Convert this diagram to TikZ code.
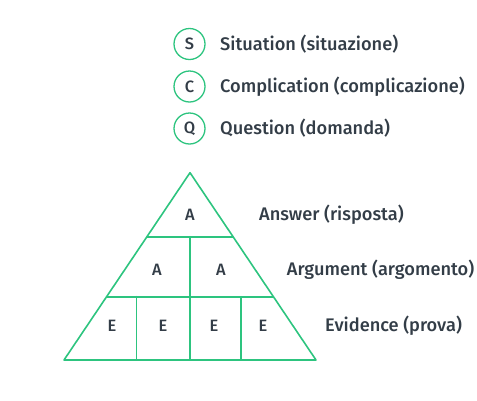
\documentclass[tikz,border=0pt]{standalone}
\usepackage{fontspec}
\setmainfont{Fira Sans Medium}
\definecolor{grn}{HTML}{2DC47F}
\definecolor{txt}{HTML}{333D47}
\begin{document}
\begin{tikzpicture}[x=1bp,y=-1bp,
  line/.style={draw=grn,line width=1.6bp,line join=round,line cap=round},
  badge/.style={circle,draw=grn,line width=1.3bp,minimum size=31bp,inner sep=0pt,text=txt,font=\fontsize{16.5}{18}\selectfont},
  lbl/.style={anchor=west,text=txt,font=\fontsize{18.3}{21}\selectfont,inner sep=0pt},
  cell/.style={text=txt,font=\fontsize{16.5}{18}\selectfont,inner sep=0pt}]
\useasboundingbox (0,0) rectangle (477,400);
% legend
\node[badge] (s) at (189.5,44) {S};
\node[badge] (c) at (189.5,86.5) {C};
\node[badge] (q) at (189.5,128.5) {Q};
\node[lbl] (ls) at (220,44) {Situation (situazione)};
\node[lbl] (lc) at (220,86.5) {Complication (complicazione)};
\node[lbl] (lq) at (220,128.5) {Question (domanda)};
% pyramid
\coordinate (top) at (190,172.7);
\coordinate (bl) at (64,360);
\coordinate (br) at (316,360);
\coordinate (l1a) at (146.9,236.7);
\coordinate (l1b) at (233.1,236.7);
\coordinate (l2a) at (106.6,296.7);
\coordinate (l2b) at (273.4,296.7);
\coordinate (m1) at (190,236.7);
\coordinate (m2) at (190,360);
\coordinate (v1a) at (136.3,296.7);
\coordinate (v1b) at (136.3,360);
\coordinate (v2a) at (240.7,296.7);
\coordinate (v2b) at (240.7,360);
\draw[line] (top) -- (br) -- (bl) -- cycle;
\draw[line] (l1a) -- (l1b);
\draw[line] (l2a) -- (l2b);
\draw[line] (m1) -- (m2);
\draw[line] (v1a) -- (v1b);
\draw[line] (v2a) -- (v2b);
\node[cell] (a0) at (190,215) {A};
\node[cell] (a1) at (157,270) {A};
\node[cell] (a2) at (221,270) {A};
\node[cell] (e1) at (112,326) {E};
\node[cell] (e2) at (163,326) {E};
\node[cell] (e3) at (214,326) {E};
\node[cell] (e4) at (263,326) {E};
\node[lbl] (la) at (259,215) {Answer (risposta)};
\node[lbl] (lar) at (286.7,270) {Argument (argomento)};
\node[lbl] (le) at (325,326) {Evidence (prova)};
\end{tikzpicture}
\end{document}
